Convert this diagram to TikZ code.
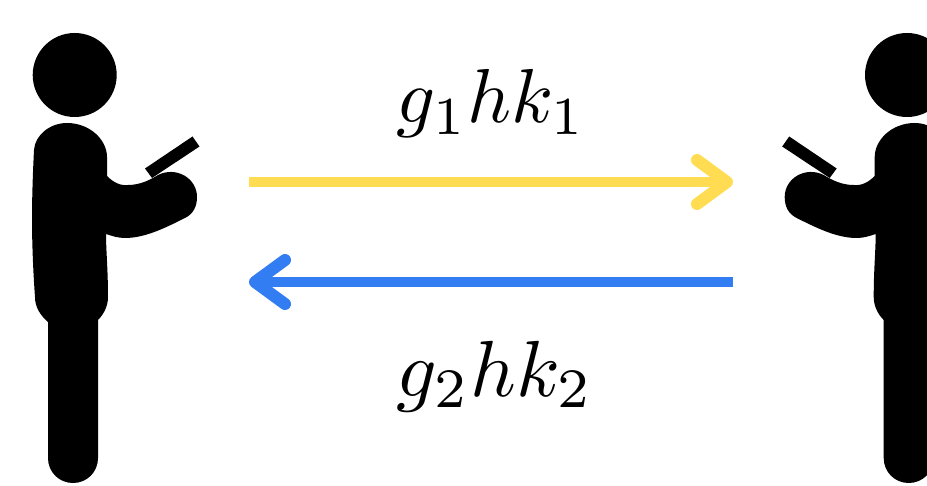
\documentclass[tikz,border=0pt]{standalone}
\usetikzlibrary{arrows.meta}
\definecolor{arrowyellow}{HTML}{FFDC52}
\definecolor{arrowblue}{HTML}{327DF2}
\tikzset{
  figure/.style={fill=black,draw=none},
  msgarrow/.style={line width=10pt,-{Straight Barb[length=30pt,width=44pt,round,line width=12pt]}},
  label/.style={inner sep=0pt,scale=7.65,anchor=base}
}
\newcommand{\personshape}{%
  \fill[figure] (74.7,75) circle (42);
  \fill[figure] (67,123)
    .. controls (90,123) and (107,140) .. (107,157)
    -- (107,176)
    .. controls (113,182) and (120,186) .. (128,185)
    .. controls (140,185) and (150,180) .. (158,175)
    .. controls (176,166) and (197,178) .. (197,197)
    .. controls (197,207) and (193,214) .. (185,218)
    .. controls (165,228) and (145,238) .. (125,238)
    .. controls (118,238) and (112,236) .. (106,234)
    .. controls (106,250) and (108,270) .. (108,297)
    .. controls (108,307) and (103,315) .. (98,320)
    -- (98,458)
    .. controls (98,472) and (87,483) .. (73,483)
    .. controls (59,483) and (48,472) .. (48,458)
    -- (48,322)
    .. controls (40,315) and (35,307) .. (35,297)
    .. controls (33,270) and (32,240) .. (32,220)
    .. controls (32,195) and (33,170) .. (34,150)
    .. controls (35,135) and (50,123) .. (67,123) -- cycle;
  \fill[figure] (145,168.5) -- (192.5,136.5) -- (199.5,146.5) -- (152,178) -- cycle;
}
\begin{document}
\begin{tikzpicture}[x=1pt,y=-1pt]
\useasboundingbox (0,0) rectangle (927,486);
\personshape
\begin{scope}[xshift=981.7pt,xscale=-1]
\personshape
\end{scope}
\coordinate (yl) at (249,182);
\coordinate (yr) at (733,182);
\coordinate (bl) at (249,282);
\coordinate (br) at (733,282);
\draw[msgarrow,arrowyellow] (yl) -- (yr);
\draw[msgarrow,arrowblue] (br) -- (bl);
\node[label] (top) at (491.5,123) {$g_1hk_1$};
\node[label] (bot) at (495,396) {\scalebox{1.04}{$g_2hk_2$}};
\end{tikzpicture}
\end{document}
